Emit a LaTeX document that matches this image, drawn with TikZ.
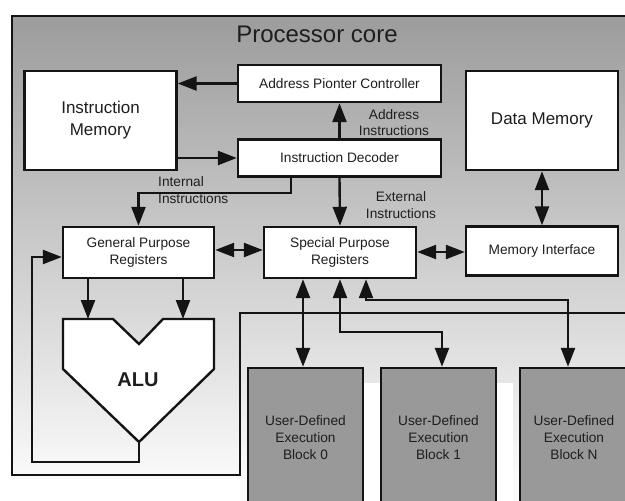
\documentclass[tikz,border=0pt]{standalone}
\usepackage{fontspec}
\setmainfont{Liberation Sans}
\usetikzlibrary{arrows.meta}
\definecolor{topc}{RGB}{156,156,156}
\definecolor{botc}{RGB}{250,250,250}
\definecolor{blk}{RGB}{153,153,153}
\definecolor{ln}{RGB}{20,20,20}
\definecolor{txt}{RGB}{30,30,30}
\begin{document}
\begin{tikzpicture}[x=1pt,y=-1pt,
  lw/.style={line width=2.4pt, draw=ln},
  box/.style={lw, fill=white, rectangle, inner sep=0pt, align=center, text=txt,
    font=\fontsize{13.7}{16.5}\selectfont},
  bigbox/.style={box, font=\fontsize{17}{22}\selectfont},
  eblock/.style={lw, fill=blk, rectangle, inner sep=0pt, align=center, text=txt,
    font=\fontsize{13.7}{17}\selectfont, minimum height=140pt},
  lbl/.style={text=txt, font=\fontsize{13.7}{16.5}\selectfont, inner sep=0pt},
  arr/.style={lw, -{Triangle[length=19pt,width=14pt]}},
  darr/.style={lw, {Triangle[length=19pt,width=14pt]}-{Triangle[length=19pt,width=14pt]}},
  wire/.style={lw}
]
\useasboundingbox (0,0) rectangle (625,501);
\clip (0,0) rectangle (625,501);
\fill[white] (0,0) rectangle (625,501);
% background gradient
\shade[top color=topc, bottom color=botc] (12,16) rectangle (632,478);
\fill[botc] (240,478) rectangle (632,503);
\fill[white] (247,383) rectangle (513,503);
% core outline
\draw[wire] (632,16) -- (12,16) -- (12,475) -- (240,475) -- (240,313) -- (632,313);
\node[text=txt, font=\fontsize{24}{28}\selectfont, inner sep=0pt] (title) at (317,34) {Processor core};

% boxes
\node[bigbox, minimum width=152pt, minimum height=99pt] (im) at (100.5,120.5) {Instruction\\Memory};
\node[box, minimum width=203pt, minimum height=37pt] (apc) at (339.5,83.5) {Address Pionter Controller};
\node[box, minimum width=203pt, minimum height=37pt] (dec) at (339.5,158) {Instruction Decoder};
\node[bigbox, minimum width=152pt, minimum height=99pt] (dm) at (542,120.5) {Data Memory};
\node[box, minimum width=151pt, minimum height=51pt] (gpr) at (138.5,252.5) {General Purpose\\Registers};
\node[box, minimum width=152pt, minimum height=51pt] (spr) at (340,252.5) {Special Purpose\\Registers};
\node[box, minimum width=152pt, minimum height=49pt] (mi) at (542,251) {Memory Interface};

% ALU
\draw[lw, fill=white] (63,319) -- (113,319) -- (139,344) -- (163,319) -- (214,319) -- (214,369) -- (139,442) -- (63,369) -- cycle;
\node[text=txt, font=\fontsize{20}{24}\selectfont\bfseries, inner sep=0pt] (alu) at (138,380) {ALU};
\coordinate (ain1) at (88,319);
\coordinate (ain2) at (183,319);
\coordinate (aout) at (139,442);

% execution blocks
\node[eblock, minimum width=115pt] (b0) at (305.5,438) {User-Defined\\Execution\\Block 0};
\node[eblock, minimum width=115pt] (b1) at (438.5,438) {User-Defined\\Execution\\Block 1};
\node[eblock, minimum width=108pt] (bn) at (574,438) {User-Defined\\Execution\\Block N};

% labels
\node[lbl, align=center] (lad) at (394,122.5) {Address\\Instructions};
\node[lbl, align=center] (lext) at (401,205) {External\\Instructions};
\node[lbl, align=left, anchor=west] (lint) at (158,190) {Internal\\Instructions};

% connectors
\draw[arr] (apc.west) -- (im.east |- apc.west);
\coordinate (imd) at (176,158);
\draw[arr] (im.east |- imd) -- (dec.west |- imd);
\draw[arr] (dec.north) -- (apc.south);
\draw[arr] (dec.south) -- (spr.north);
\coordinate (intc) at (291,193);
\draw[arr] (dec.south -| intc) -- (intc) -| (gpr.north);
\draw[darr] (dm.south) -- (mi.north);
\coordinate (gs) at (214,250);
\draw[darr] (gpr.east |- gs) -- (spr.west |- gs);
\coordinate (sm) at (416,252);
\draw[darr] (spr.east |- sm) -- (mi.west |- sm);
\draw[arr] (gpr.south -| ain1) -- (ain1);
\draw[arr] (gpr.south -| ain2) -- (ain2);
\coordinate (fb1) at (139,462);
\coordinate (fb2) at (32,462);
\coordinate (fb3) at (32,257);
\draw[arr] (aout) -- (fb1) -- (fb2) -- (fb3) -- (gpr.west |- fb3);
% SPR to blocks
\coordinate (c0) at (303,300);
\draw[darr] (spr.south -| c0) -- (b0.north -| c0);
\coordinate (c1a) at (340,332);
\coordinate (c1b) at (442,332);
\draw[darr] (spr.south -| c1a) -- (c1a) -- (c1b) -- (b1.north -| c1b);
\coordinate (c2a) at (366,300);
\coordinate (c2b) at (568,300);
\draw[darr] (spr.south -| c2a) -- (c2a) -- (c2b) -- (bn.north -| c2b);
\end{tikzpicture}
\end{document}
